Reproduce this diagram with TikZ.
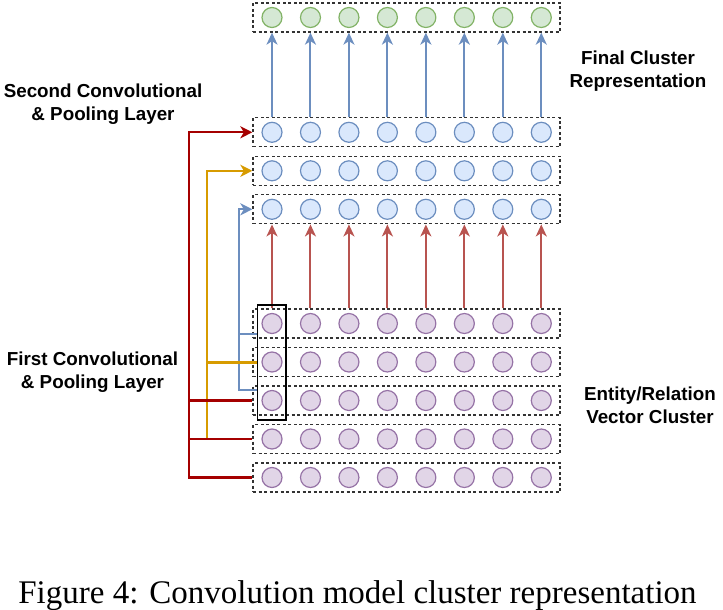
\documentclass[tikz,border=0pt]{standalone}
\usepackage{fontspec}
\setmainfont{Liberation Serif}
\newfontfamily\labfont{Liberation Sans}
\usetikzlibrary{arrows.meta}
\definecolor{gfill}{HTML}{D5E8D4}
\definecolor{gline}{HTML}{82B366}
\definecolor{bfill}{HTML}{DAE8FC}
\definecolor{bline}{HTML}{6C8EBF}
\definecolor{pfill}{HTML}{E1D5E7}
\definecolor{pline}{HTML}{9673A6}
\definecolor{rarr}{HTML}{B85450}
\definecolor{dred}{HTML}{A50000}
\definecolor{oconn}{HTML}{D79B00}
\definecolor{boxline}{HTML}{333333}
\begin{document}
\begin{tikzpicture}[x=1pt,y=-1pt,
  rowbox/.style={draw=boxline, dash pattern=on 3pt off 2.5pt, line width=1.3pt, minimum width=307pt, minimum height=29pt, inner sep=0pt},
  cell/.style={circle, minimum size=20pt, inner sep=0pt, line width=1.2pt},
  gcell/.style={cell, draw=gline, fill=gfill},
  bcell/.style={cell, draw=bline, fill=bfill},
  pcell/.style={cell, draw=pline, fill=pfill},
  tip/.style={-{Stealth[length=12pt,width=11pt,inset=3.5pt]}},
  bigtip/.style={-{Stealth[length=12pt,width=12pt,inset=3.5pt]}},
  barrow/.style={draw=bline, line width=2pt, tip},
  rarrow/.style={draw=rarr, line width=2pt, tip},
  conn/.style={line width=2.2pt},
  lab/.style={font=\labfont\bfseries\fontsize{18.8}{22.8}\selectfont, align=center, inner sep=0pt},
  selbox/.style={draw=black, line width=1.2pt, minimum width=28.3pt, minimum height=115pt, inner sep=0pt}
]
\useasboundingbox (0,0) rectangle (723,610);

\foreach \r/\y/\st in {g/17.5/gcell, b1/132.3/bcell, b2/170.8/bcell, b3/209.3/bcell,
                       p1/323.5/pcell, p2/362/pcell, p3/400.5/pcell, p4/439/pcell, p5/477.5/pcell} {
  \node[rowbox] (\r) at (406.5,\y) {};
  \foreach \i in {1,...,8} {
    \node[\st] (\r-\i) at ({272+38.47*(\i-1)},\y) {};
  }
}

\foreach \i in {1,...,8} {
  \draw[barrow] (b1-\i |- b1.north) -- (b1-\i |- g.south);
  \draw[rarrow] (p1-\i |- p1.north) -- (p1-\i |- b3.south);
}

\node[selbox] (sel) at (271.85,362.5) {};

\coordinate (rx) at (189.3,0);
\coordinate (ox) at (206.7,0);
\coordinate (bx) at (238.7,0);

% blue connector
\draw[conn, draw=bline, bigtip] (sel.west |- p3-1.north) -| (bx |- b3.west) -- (b3.west);
\draw[conn, draw=bline] (sel.west |- p1-1.south) -- (bx |- p1-1.south);
% orange connector
\draw[conn, draw=oconn, bigtip] (sel.west) -| (ox |- b2.west) -- (b2.west);
\draw[conn, draw=oconn] (ox |- sel.west) -- (ox |- p4.west);
% dark red connector
\draw[conn, draw=dred, bigtip] (p5.west) -| (rx |- b1.west) -- (b1.west);
\draw[conn, draw=dred] (p4.west) -- (rx |- p4.west);
\draw[conn, draw=dred] (p3.west) -- (rx |- p3.west);

\node[lab] (l2) at (103,104) {Second Convolutional\\\& Pooling Layer};
\node[lab] (l1) at (92.5,372.5) {First Convolutional\\\& Pooling Layer};
\node[lab] (lf) at (638,71) {Final Cluster\\Representation};
\node[lab] (le) at (650,405) {Entity/Relation\\Vector Cluster};

\node[font=\fontsize{33}{40}\selectfont, anchor=base, inner sep=0pt] (cap) at (357.5,603) {Figure 4: Convolution model cluster representation};
\end{tikzpicture}
\end{document}
